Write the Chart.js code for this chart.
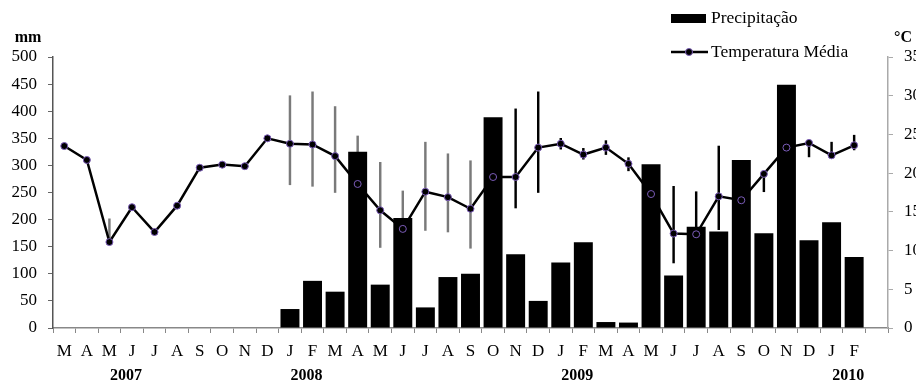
<!DOCTYPE html>
<html>
<head>
<meta charset="utf-8">
<script src="https://cdn.jsdelivr.net/npm/chart.js@4/dist/chart.umd.min.js"></script>
<style>
  html, body { margin: 0; padding: 0; background: #fff; }
  #chart { display: block; }
</style>
</head>
<body>
<canvas id="chart" width="916" height="381"></canvas>
<script>
// Months from Mar 2007 to Feb 2010, plus one empty slot at the end
const months = ['M','A','M','J','J','A','S','O','N','D',
                'J','F','M','A','M','J','J','A','S','O','N','D',
                'J','F','M','A','M','J','J','A','S','O','N','D',
                'J','F',''];
const years = ['','','','2007','','','','','','',
               '','2008','','','','','','','','','','',
               '','2009','','','','','','','','','','',
               '','2010',''];

// Precipitação (mm)
const precip = [null,null,null,null,null,null,null,null,null,null,
                35,87,67,325,80,203,38,94,100,389,136,50,
                121,158,11,10,302,97,187,178,310,175,449,162,
                195,131];

// Temperatura Média (°C)
const temp = [23.5,21.7,11.1,15.6,12.4,15.8,20.7,21.1,20.9,24.5,
              23.8,23.7,22.2,18.6,15.2,12.8,17.6,16.9,15.4,19.5,19.5,23.3,
              23.8,22.4,23.3,21.2,17.3,12.2,12.1,17.0,16.5,19.9,23.3,23.9,
              22.3,23.6];

// error bar ends (°C)
const tempLow = [null,null,11.1,null,null,null,null,null,null,null,
                 18.5,18.3,17.5,12.4,10.4,7.9,12.6,12.4,10.3,null,15.5,17.5,
                 23.1,21.8,22.4,20.3,null,8.4,6.6,12.7,null,17.6,null,22.1,
                 22.0,23.0];
const tempHigh = [null,null,14.1,null,null,null,null,null,null,null,
                  30.0,30.5,28.6,24.8,21.4,17.7,24.0,22.5,21.6,null,28.3,30.5,
                  24.5,23.2,24.2,22.0,null,18.3,17.6,23.5,null,19.9,null,23.9,
                  24.0,24.9];

const serif = "'Liberation Serif', 'Times New Roman', serif";
const purple = '#7b5cb8';

const errData = tempLow.map((lo, i) => (lo == null ? null : [lo, tempHigh[i]]));
const errColors = tempLow.map((lo, i) => (i <= 18 ? '#7a7a7a' : '#000'));

const extras = {
  id: 'extras',
  afterDraw(chart) {
    const ctx = chart.ctx;
    const area = chart.chartArea;
    ctx.save();
    ctx.fillStyle = '#000';
    ctx.textBaseline = 'middle';
    ctx.font = 'bold 16px ' + serif;
    ctx.textAlign = 'center';
    ctx.fillText('mm', area.left - 25, 38);
    ctx.textAlign = 'left';
    ctx.fillText('°C', area.right + 6, 38);

    // legend
    ctx.font = '17.5px ' + serif;
    ctx.fillRect(671, 14, 35, 9);
    ctx.fillText('Precipitação', 711, 18);
    ctx.strokeStyle = '#000';
    ctx.lineWidth = 2.5;
    ctx.beginPath();
    ctx.moveTo(671, 52);
    ctx.lineTo(708, 52);
    ctx.stroke();
    ctx.beginPath();
    ctx.arc(689, 52, 3.5, 0, Math.PI * 2);
    ctx.fillStyle = '#000';
    ctx.fill();
    ctx.lineWidth = 1;
    ctx.strokeStyle = purple;
    ctx.stroke();
    ctx.fillStyle = '#000';
    ctx.fillText('Temperatura Média', 711, 52);
    ctx.restore();
  }
};

const ctx = document.getElementById('chart').getContext('2d');
new Chart(ctx, {
  type: 'bar',
  data: {
    labels: months,
    datasets: [
      {
        type: 'line',
        label: 'Temperatura Média',
        data: temp,
        yAxisID: 'y2',
        borderColor: '#000',
        borderWidth: 2.5,
        pointRadius: 3.5,
        pointBackgroundColor: '#000',
        pointBorderColor: purple,
        pointBorderWidth: 1,
        tension: 0,
        order: 0
      },
      {
        label: 'Precipitação',
        data: precip,
        yAxisID: 'y',
        backgroundColor: '#000',
        grouped: false,
        categoryPercentage: 1,
        barPercentage: 0.84,
        order: 1
      },
      {
        label: 'erro',
        data: errData,
        yAxisID: 'y2',
        backgroundColor: errColors,
        grouped: false,
        barThickness: 1.8,
        order: 2
      }
    ]
  },
  options: {
    responsive: false,
    animation: false,
    layout: { padding: { top: 57, left: 0, right: 0, bottom: 0 } },
    plugins: {
      legend: { display: false },
      tooltip: { enabled: false }
    },
    scales: {
      x: {
        offset: true,
        grid: { drawOnChartArea: false, tickLength: 5, color: '#888', offset: true },
        border: { color: '#888', width: 1.5 },
        ticks: { color: '#000', font: { family: serif, size: 17 }, padding: 8, maxRotation: 0, autoSkip: false },
        afterFit: s => { s.height = 35; }
      },
      x2: {
        type: 'category',
        labels: years,
        position: 'bottom',
        weight: 1,
        offset: true,
        grid: { display: false, drawTicks: false },
        border: { display: false },
        ticks: { color: '#000', font: { family: serif, size: 16, weight: 'bold' }, padding: 3, maxRotation: 0, autoSkip: false, labelOffset: -6 },
        afterFit: s => { s.height = 18; }
      },
      y: {
        position: 'left',
        min: 0,
        max: 500,
        ticks: { stepSize: 50, color: '#000', font: { family: serif, size: 17 }, padding: 11 },
        grid: { drawOnChartArea: false, tickLength: 5, color: '#666' },
        border: { color: '#555', width: 1.5 },
        afterFit: s => { s.width = 53; }
      },
      y2: {
        position: 'right',
        min: 0,
        max: 35,
        ticks: { stepSize: 5, color: '#000', font: { family: serif, size: 17 }, padding: 11 },
        grid: { drawOnChartArea: false, tickLength: 5, color: '#aaa' },
        border: { color: '#aaa', width: 1.5 },
        afterFit: s => { s.width = 28; }
      }
    }
  },
  plugins: [extras]
});
</script>
</body>
</html>
